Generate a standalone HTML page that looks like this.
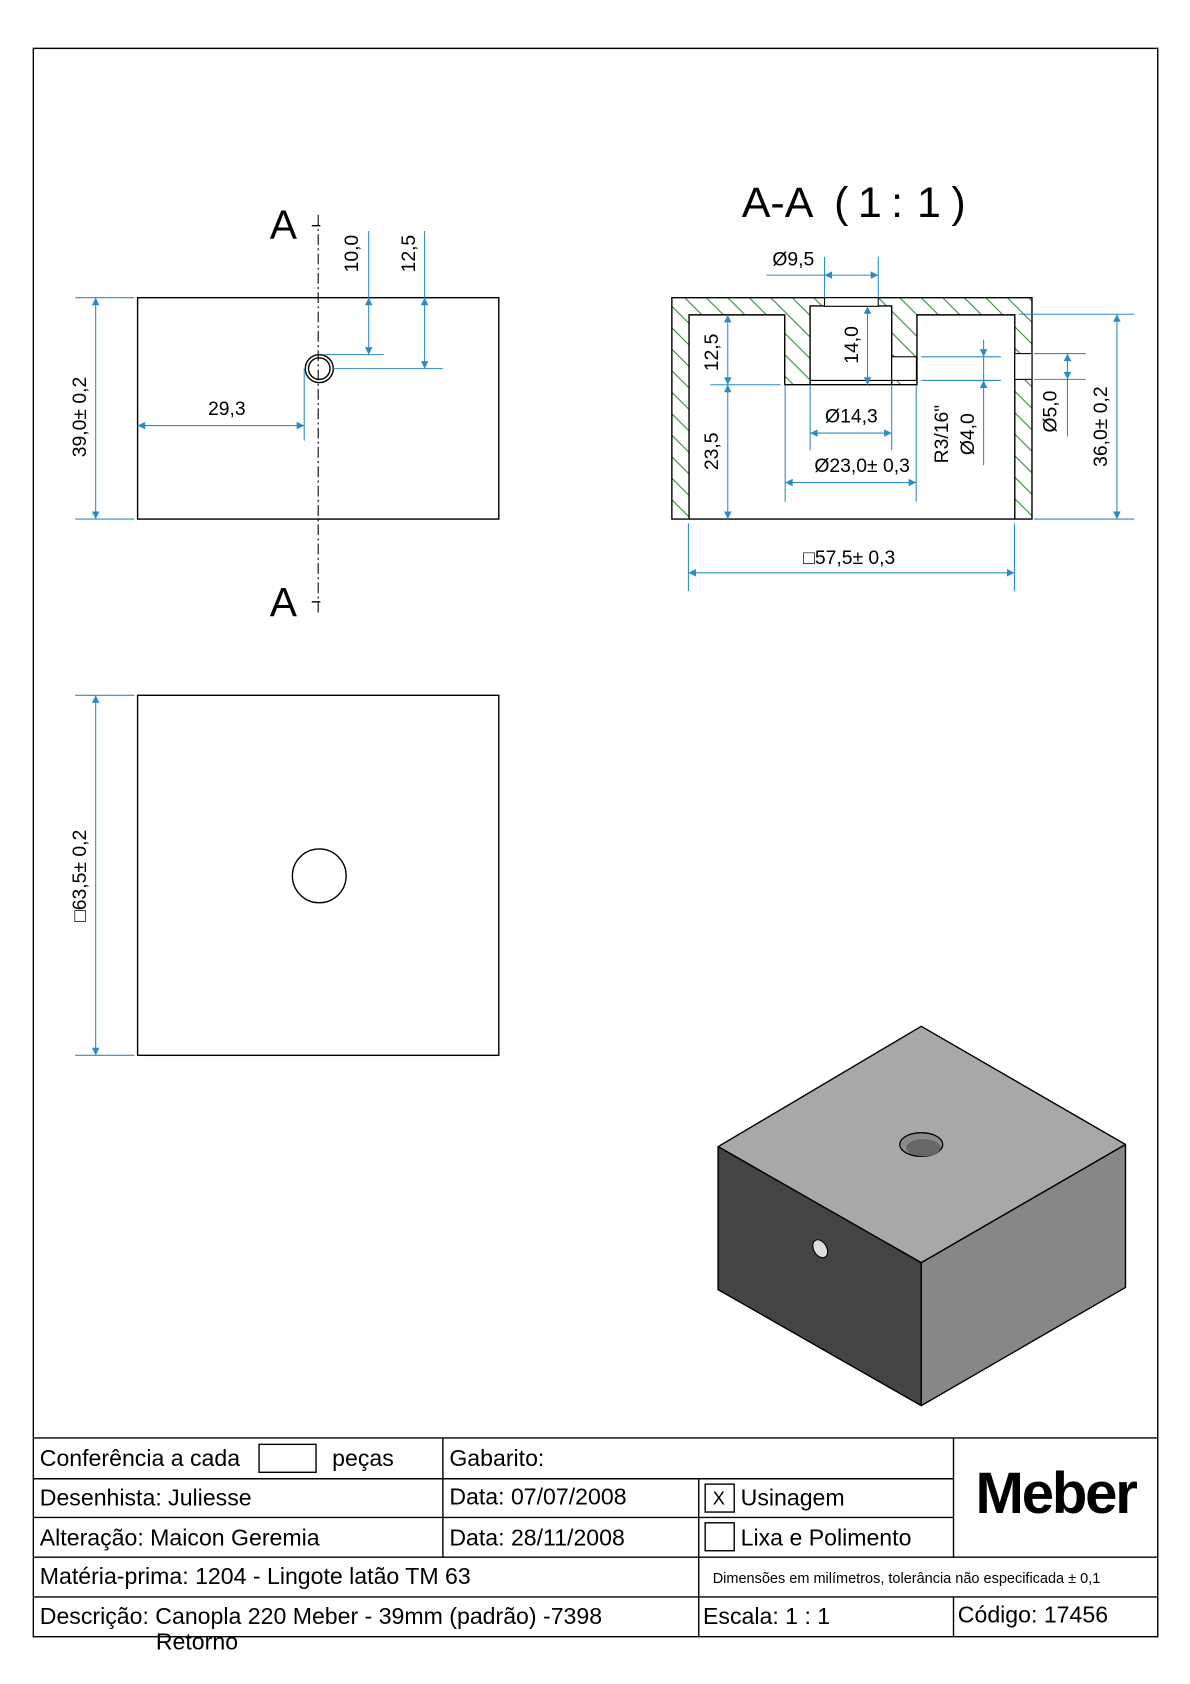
<!DOCTYPE html>
<html><head><meta charset="utf-8"><style>
html,body{margin:0;padding:0;background:#fff}
svg{display:block}
text{font-family:"Liberation Sans",sans-serif;fill:#000}
.d{stroke:#2a8cc4;stroke-width:1;fill:none}
.b{stroke:#000;stroke-width:1.3;fill:none}
.dt{font-size:18px}
.tb{font-size:21.5px}
</style></head><body>
<svg width="1190" height="1684" viewBox="0 0 1107 1567" preserveAspectRatio="none" xmlns="http://www.w3.org/2000/svg">
<defs>
<marker id="a" viewBox="0 0 10 10" refX="10" refY="5" markerWidth="9" markerHeight="7" orient="auto-start-reverse" markerUnits="userSpaceOnUse"><path d="M0,0L10,5L0,10z" fill="#2a8cc4"/></marker>
<pattern id="h" width="20" height="20" patternUnits="userSpaceOnUse"><path d="M-5,-5L25,25M-5,15L5,25M15,-5L25,5" stroke="#2e8b2e" stroke-width="1"/></pattern>
</defs>
<rect x="31" y="45" width="1046" height="1478" fill="none" stroke="#000" stroke-width="1.3"/>

<!-- Top view -->
<rect x="128" y="277" width="336" height="206" class="b"/>
<line x1="296" y1="200" x2="296" y2="570" stroke="#000" stroke-width="1" stroke-dasharray="10,3,2,3"/>
<line x1="290" y1="210" x2="298" y2="210" stroke="#000" stroke-width="1.3"/>
<line x1="290" y1="560" x2="298" y2="560" stroke="#000" stroke-width="1.3"/>
<text x="251" y="222" font-size="38">A</text>
<text x="251" y="573" font-size="38">A</text>
<circle cx="297" cy="343" r="13" class="b"/><circle cx="297" cy="343" r="10" class="b"/>
<line x1="70" y1="277" x2="125" y2="277" class="d"/><line x1="70" y1="483" x2="125" y2="483" class="d"/>
<line x1="89" y1="277" x2="89" y2="483" class="d" marker-start="url(#a)" marker-end="url(#a)"/>
<text class="dt" transform="translate(80,388) rotate(-90)" text-anchor="middle">39,0± 0,2</text>
<line x1="283" y1="343" x2="283" y2="410" class="d"/>
<line x1="128" y1="396" x2="283" y2="396" class="d" marker-start="url(#a)" marker-end="url(#a)"/>
<text class="dt" x="211" y="386" text-anchor="middle">29,3</text>
<line x1="300" y1="330" x2="357" y2="330" class="d"/>
<line x1="343" y1="215" x2="343" y2="277" class="d"/>
<line x1="343" y1="277" x2="343" y2="330" class="d" marker-start="url(#a)" marker-end="url(#a)"/>
<text class="dt" transform="translate(333,236) rotate(-90)" text-anchor="middle">10,0</text>
<line x1="310" y1="343" x2="412" y2="343" class="d"/>
<line x1="395" y1="215" x2="395" y2="277" class="d"/>
<line x1="395" y1="277" x2="395" y2="343" class="d" marker-start="url(#a)" marker-end="url(#a)"/>
<text class="dt" transform="translate(386,236) rotate(-90)" text-anchor="middle">12,5</text>

<!-- Bottom view -->
<rect x="128" y="647" width="336" height="335" class="b"/>
<circle cx="297" cy="815" r="25" class="b"/>
<line x1="70" y1="647" x2="125" y2="647" class="d"/><line x1="70" y1="982" x2="125" y2="982" class="d"/>
<line x1="89" y1="647" x2="89" y2="982" class="d" marker-start="url(#a)" marker-end="url(#a)"/>
<text class="dt" transform="translate(80,815) rotate(-90)" text-anchor="middle">□63,5± 0,2</text>

<!-- Section -->
<text x="690" y="202" font-size="40">A-A</text>
<text x="776" y="202" font-size="40">(</text>
<text x="798" y="202" font-size="40">1</text>
<text x="829" y="202" font-size="40">:</text>
<text x="853" y="202" font-size="40">1</text>
<text x="885" y="202" font-size="40">)</text>
<path fill="url(#h)" fill-rule="evenodd" stroke="#000" stroke-width="1.3" d="M625,277H960V483H625Z M641,293H730V358H853V293H944V483H641Z M753.6,284.7H829.5V358H753.6Z"/>
<rect x="767" y="277" width="50" height="8" fill="#fff" stroke="#000" stroke-width="1"/>
<rect x="829.5" y="332" width="23" height="22" fill="#fff" stroke="#000" stroke-width="1"/>
<rect x="944" y="329" width="16" height="24" fill="#fff" stroke="#000" stroke-width="1"/>
<line x1="753.6" y1="354" x2="829.5" y2="354" stroke="#000" stroke-width="1"/>
<!-- dims -->
<line x1="767" y1="239" x2="767" y2="277" class="d"/><line x1="817" y1="239" x2="817" y2="277" class="d"/>
<line x1="713" y1="256" x2="767" y2="256" class="d"/>
<line x1="767" y1="256" x2="817" y2="256" class="d" marker-start="url(#a)" marker-end="url(#a)"/>
<text class="dt" x="738" y="247" text-anchor="middle">Ø9,5</text>
<line x1="661" y1="358" x2="726" y2="358" class="d"/>
<line x1="677" y1="293" x2="677" y2="358" class="d" marker-start="url(#a)" marker-end="url(#a)"/>
<line x1="677" y1="358" x2="677" y2="483" class="d" marker-start="url(#a)" marker-end="url(#a)"/>
<text class="dt" transform="translate(668,328) rotate(-90)" text-anchor="middle">12,5</text>
<text class="dt" transform="translate(668,420) rotate(-90)" text-anchor="middle">23,5</text>
<line x1="807" y1="285" x2="807" y2="358" class="d" marker-start="url(#a)" marker-end="url(#a)"/>
<text class="dt" transform="translate(798,321) rotate(-90)" text-anchor="middle">14,0</text>
<line x1="753.6" y1="358" x2="753.6" y2="419" class="d"/><line x1="829.5" y1="358" x2="829.5" y2="419" class="d"/>
<line x1="753.6" y1="403" x2="829.5" y2="403" class="d" marker-start="url(#a)" marker-end="url(#a)"/>
<text class="dt" x="792" y="393" text-anchor="middle">Ø14,3</text>
<line x1="730.4" y1="358" x2="730.4" y2="467" class="d"/><line x1="852.3" y1="358" x2="852.3" y2="467" class="d"/>
<line x1="730.4" y1="449" x2="852.3" y2="449" class="d" marker-start="url(#a)" marker-end="url(#a)"/>
<text class="dt" x="802" y="439" text-anchor="middle">Ø23,0± 0,3</text>
<line x1="857" y1="332" x2="931" y2="332" class="d"/><line x1="857" y1="354" x2="931" y2="354" class="d"/>
<line x1="915" y1="316" x2="915" y2="332" class="d" marker-end="url(#a)"/>
<line x1="915" y1="332" x2="915" y2="354" class="d"/>
<line x1="915" y1="433" x2="915" y2="354" class="d" marker-end="url(#a)"/>
<text class="dt" transform="translate(882,404) rotate(-90)" text-anchor="middle">R3/16"</text>
<text class="dt" transform="translate(906,404) rotate(-90)" text-anchor="middle">Ø4,0</text>
<line x1="962" y1="329" x2="1010" y2="329" class="d"/><line x1="962" y1="353" x2="1010" y2="353" class="d"/>
<line x1="993" y1="329" x2="993" y2="353" class="d" marker-start="url(#a)" marker-end="url(#a)"/>
<line x1="993" y1="353" x2="993" y2="406" class="d"/>
<text class="dt" transform="translate(983,383) rotate(-90)" text-anchor="middle">Ø5,0</text>
<line x1="948" y1="292.4" x2="1055" y2="292.4" class="d"/><line x1="962" y1="483" x2="1055" y2="483" class="d"/>
<line x1="1039" y1="292.4" x2="1039" y2="483" class="d" marker-start="url(#a)" marker-end="url(#a)"/>
<text class="dt" transform="translate(1030,397) rotate(-90)" text-anchor="middle">36,0± 0,2</text>
<line x1="640.4" y1="487" x2="640.4" y2="550" class="d"/><line x1="943.7" y1="487" x2="943.7" y2="550" class="d"/>
<line x1="640.4" y1="533" x2="943.7" y2="533" class="d" marker-start="url(#a)" marker-end="url(#a)"/>
<text class="dt" x="790" y="525" text-anchor="middle">□57,5± 0,3</text>

<!-- Isometric -->
<g stroke="#000" stroke-width="1.3" stroke-linejoin="round">
<polygon points="857,955 1047,1065 857,1175 668,1067" fill="#a8a8a8"/>
<polygon points="668,1067 857,1175 857,1308 668,1200" fill="#444"/>
<polygon points="857,1175 1047,1065 1047,1198 857,1308" fill="#878787"/>
</g>
<ellipse cx="857" cy="1065" rx="20" ry="11" fill="#8a8a8a" stroke="#000" stroke-width="1.2"/>
<ellipse cx="859" cy="1068" rx="16" ry="8" fill="#666"/>
<ellipse cx="763" cy="1162" rx="6" ry="9" transform="rotate(-30 763 1162)" fill="#ddd" stroke="#000" stroke-width="1"/>

<!-- Title block -->
<g stroke="#000" stroke-width="1.3" fill="none">
<line x1="31" y1="1338" x2="1077" y2="1338"/>
<line x1="31" y1="1376" x2="887" y2="1376"/>
<line x1="31" y1="1412" x2="887" y2="1412"/>
<line x1="31" y1="1449" x2="1077" y2="1449"/>
<line x1="31" y1="1486" x2="1077" y2="1486"/>
<line x1="412" y1="1338" x2="412" y2="1449"/>
<line x1="650" y1="1376" x2="650" y2="1523"/>
<line x1="887" y1="1338" x2="887" y2="1449"/>
<line x1="887" y1="1486" x2="887" y2="1523"/>
<rect x="241" y="1344" width="53" height="26"/>
<rect x="656" y="1381" width="27" height="26"/>
<rect x="656" y="1417" width="27" height="26"/>
</g>
<text class="tb" x="37" y="1364">Conferência a cada</text>
<text class="tb" x="309" y="1364">peças</text>
<text class="tb" x="418" y="1364">Gabarito:</text>
<text class="tb" x="37" y="1401">Desenhista: Juliesse</text>
<text class="tb" x="418" y="1400">Data: 07/07/2008</text>
<text x="663" y="1400" font-size="17">X</text>
<text class="tb" x="689" y="1401">Usinagem</text>
<text class="tb" x="37" y="1438">Alteração: Maicon Geremia</text>
<text class="tb" x="418" y="1438">Data: 28/11/2008</text>
<text class="tb" x="689" y="1438">Lixa e Polimento</text>
<text class="tb" x="37" y="1474">Matéria-prima: 1204 - Lingote latão TM 63</text>
<text x="663" y="1473" font-size="13.5">Dimensões em milímetros, tolerância não especificada ± 0,1</text>
<text class="tb" x="37" y="1511">Descrição: Canopla 220 Meber - 39mm (padrão) -7398</text>
<text class="tb" x="145" y="1535">Retorno</text>
<text class="tb" x="654" y="1511">Escala: 1 : 1</text>
<text class="tb" x="891" y="1510">Código: 17456</text>
<text x="982" y="1408" font-size="54" font-weight="bold" text-anchor="middle" letter-spacing="-2">Meber</text>
</svg>
</body></html>
